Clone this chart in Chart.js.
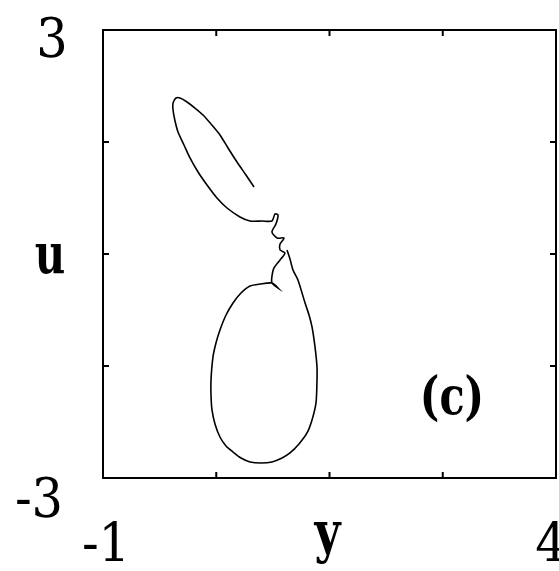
<!DOCTYPE html>
<html>
<head>
<meta charset="utf-8">
<script src="https://cdn.jsdelivr.net/npm/chart.js@4.4.1/dist/chart.umd.min.js"></script>
<style>
  html, body { margin: 0; padding: 0; background: #fff; }
  #wrap { width: 559px; height: 571px; }
</style>
</head>
<body>
<div id="wrap"><canvas id="phaseChart"></canvas></div>
<script>
// trajectory in the (y, u) plane
const yVals = [
  0.667, 0.578, 0.479, 0.380, 0.291, 0.192, 0.104, 0.015, -0.073, -0.150,
  -0.194, -0.227, -0.227, -0.205, -0.172, -0.106, -0.040, 0.049, 0.148, 0.258,
  0.369, 0.512, 0.623, 0.755, 0.865, 0.898, 0.932, 0.909, 0.865, 0.921,
  0.998, 0.954, 0.954, 1.009, 0.954, 0.887, 0.865, 0.865, 0.932, 0.865,
  0.733, 0.623, 0.523, 0.435, 0.358, 0.291, 0.247, 0.214, 0.192, 0.192,
  0.203, 0.236, 0.291, 0.358, 0.435, 0.523, 0.623, 0.744, 0.865, 0.976,
  1.064, 1.163, 1.252, 1.307, 1.351, 1.362, 1.362, 1.340, 1.307, 1.274,
  1.230, 1.152, 1.097, 1.064, 1.031
];
const uVals = [
  0.897, 1.058, 1.232, 1.420, 1.594, 1.741, 1.862, 1.955, 2.036, 2.089,
  2.089, 2.022, 1.929, 1.781, 1.634, 1.460, 1.286, 1.098, 0.924, 0.750,
  0.616, 0.496, 0.442, 0.442, 0.442, 0.536, 0.522, 0.402, 0.295, 0.214,
  0.214, 0.134, 0.054, 0.014, -0.080, -0.187, -0.295, -0.388, -0.455, -0.388,
  -0.402, -0.428, -0.522, -0.656, -0.817, -1.018, -1.192, -1.379, -1.687, -1.888,
  -2.089, -2.277, -2.451, -2.571, -2.652, -2.732, -2.785, -2.799, -2.785, -2.732,
  -2.665, -2.544, -2.397, -2.223, -1.995, -1.687, -1.513, -1.245, -0.977, -0.817,
  -0.656, -0.348, -0.214, -0.067, 0.054
];

const xRange = [-1, 4];
const yRange = [-3, 3];
const xTicks = [0.25, 1.5, 2.75];
const yTicks = [-1.5, 0, 1.5];
const xTickLabels = ["-1", "4"];
const yTickLabels = ["3", "-3"];
const xTitle = "y";
const yTitle = "u";
const panelTag = "(c)";

const points = yVals.map((v, i) => ({ x: v, y: uVals[i] }));

// narrow-set text: squeeze horizontally around the anchor point
function squeezed(ctx, text, x, y, k) {
  ctx.save();
  ctx.translate(x, y);
  ctx.scale(k, 1);
  ctx.fillText(text, 0, 0);
  ctx.restore();
}

// frame, inward ticks and all the text
const framePlugin = {
  id: "frame",
  afterDraw(chart) {
    const { ctx, chartArea: a, scales } = chart;
    const sx = scales.x, sy = scales.y;
    ctx.save();
    ctx.strokeStyle = "#000";
    ctx.lineWidth = 2;
    ctx.strokeRect(a.left, a.top, a.right - a.left, a.bottom - a.top);

    const t = 6;
    ctx.beginPath();
    xTicks.forEach((v) => {
      const px = sx.getPixelForValue(v);
      ctx.moveTo(px, a.bottom); ctx.lineTo(px, a.bottom - t);
      ctx.moveTo(px, a.top); ctx.lineTo(px, a.top + t);
    });
    yTicks.forEach((v) => {
      const py = sy.getPixelForValue(v);
      ctx.moveTo(a.left, py); ctx.lineTo(a.left + t, py);
      ctx.moveTo(a.right, py); ctx.lineTo(a.right - t, py);
    });
    ctx.stroke();

    ctx.fillStyle = "#000";
    ctx.textAlign = "center";
    ctx.textBaseline = "alphabetic";
    ctx.font = '55px "DejaVu Serif"';
    squeezed(ctx, yTickLabels[0], 52, sy.getPixelForValue(yRange[1]) + 27, 0.9);
    squeezed(ctx, yTickLabels[1], 39, sy.getPixelForValue(yRange[0]) + 39, 0.9);
    squeezed(ctx, xTickLabels[0], sx.getPixelForValue(xRange[0]) + 3, a.bottom + 84, 0.9);
    squeezed(ctx, xTickLabels[1], sx.getPixelForValue(xRange[1]) - 5, a.bottom + 84, 0.9);

    ctx.font = 'bold 56px "DejaVu Serif"';
    squeezed(ctx, yTitle, 50, sy.getPixelForValue(0) + 19, 0.75);
    squeezed(ctx, xTitle, (a.left + a.right) / 2 - 2, a.bottom + 74, 0.8);

    ctx.font = 'bold 53px "DejaVu Serif"';
    squeezed(ctx, panelTag, 452, 414, 0.78);
    ctx.restore();
  },
};

new Chart(document.getElementById("phaseChart"), {
  type: "scatter",
  data: {
    datasets: [
      {
        data: points,
        showLine: true,
        borderColor: "#000",
        borderWidth: 1.6,
        pointRadius: 0,
        tension: 0.25,
        fill: false,
      },
    ],
  },
  options: {
    responsive: true,
    maintainAspectRatio: false,
    animation: false,
    layout: { padding: { left: 103, right: 3, top: 30, bottom: 93 } },
    plugins: { legend: { display: false }, tooltip: { enabled: false } },
    scales: {
      x: { type: "linear", min: xRange[0], max: xRange[1], display: false },
      y: { type: "linear", min: yRange[0], max: yRange[1], display: false },
    },
  },
  plugins: [framePlugin],
});
</script>
</body>
</html>
